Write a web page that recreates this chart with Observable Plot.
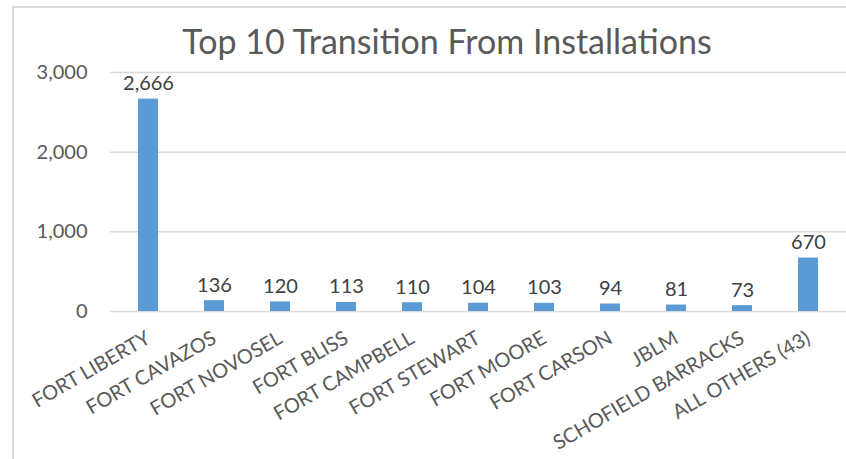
<!DOCTYPE html>
<html><head><meta charset="utf-8">
<script src="https://cdn.jsdelivr.net/npm/d3@7"></script>
<script src="https://cdn.jsdelivr.net/npm/@observablehq/plot@0.6"></script>
<style>
body{margin:0;background:#fff;}
#wrap{position:relative;width:846px;height:459px;overflow:hidden;font-family:Lato,sans-serif;background:#fff;}
#frame{position:absolute;left:12px;top:6px;width:900px;height:500px;border-left:2px solid #d9d9d9;border-top:2px solid #d9d9d9;}
#title{position:absolute;left:48px;right:0;top:24px;text-align:center;font-size:34px;line-height:34px;color:#595959;}
#chart{position:absolute;left:0;top:0;}
</style>
</head><body>
<div id="wrap"><div id="frame"></div><div id="chart"></div><div id="title">Top 10 Transition From Installations</div></div>
<script>
const categories = ["FORT LIBERTY","FORT CAVAZOS","FORT NOVOSEL","FORT BLISS","FORT CAMPBELL","FORT STEWART","FORT MOORE","FORT CARSON","JBLM","SCHOFIELD BARRACKS","ALL OTHERS (43)"];
const values = [2666,136,120,113,110,104,103,94,81,73,670];
const yTicks = [0,1000,2000,3000];
const data = categories.map((c,i)=>({category:c,value:values[i]}));
const fmt = d3.format(",");
const chart = Plot.plot({
  width:846,height:459,marginTop:72,marginBottom:148,marginLeft:110,marginRight:0,
  style:{fontFamily:"Lato, sans-serif",background:"transparent",color:"#595959"},
  x:{domain:categories,paddingInner:0.7,paddingOuter:0.35,label:null},
  y:{domain:[0,3000],label:null},
  marks:[
    Plot.ruleY(yTicks,{stroke:"#d9d9d9",strokeWidth:1.5}),
    Plot.barY(data,{x:"category",y:"value",fill:"#5b9bd5"}),
    Plot.text(data,{x:"category",y:"value",text:d=>fmt(d.value),lineAnchor:"bottom",dy:-9,fontSize:20,fill:"#404040"}),
    Plot.axisY({ticks:yTicks,tickSize:0,tickPadding:23,tickFormat:fmt,fontSize:20}),
    Plot.axisX({tickSize:0,tickRotate:-30,tickPadding:25,fontSize:20})
  ]
});
document.getElementById("chart").appendChild(chart);
</script>
</body></html>
